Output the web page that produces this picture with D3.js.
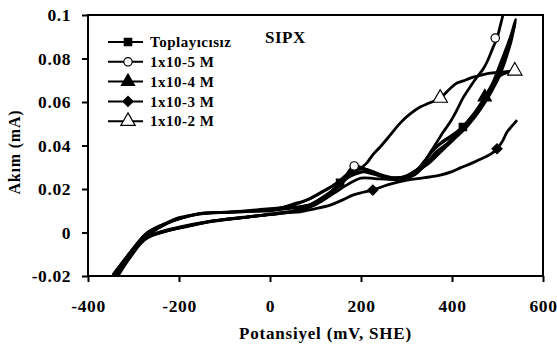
<!DOCTYPE html>
<html lang="en">
<head>
<meta charset="UTF-8">
<title>SIPX</title>
<style>
  body { margin: 0; background: #fff; }
  text { font-family: "Liberation Serif", "Times New Roman", serif; font-weight: bold; fill: #000; }
</style>
</head>
<body>
<script src="https://d3js.org/d3.v7.min.js"></script>
<script>
const width = 557, height = 346;

const xTicks = [-400, -200, 0, 200, 400, 600];
const yTicks = [-0.02, 0, 0.02, 0.04, 0.06, 0.08, 0.1];
const yTickLabels = ['-0.02', '0', '0.02', '0.04', '0.06', '0.08', '0.1'];

const seriesNames = ['Toplayıcısız', '1x10-5 M', '1x10-4 M', '1x10-3 M', '1x10-2 M'];

// [mV, mA], sweep out and back
const toplayicisiz = [
  [-338,-0.0195],[-320,-0.013],[-300,-0.0075],[-270,-0.002],[-230,0.001],[-200,0.0025],[-150,0.0045],
  [-100,0.006],[-50,0.0072],[0,0.0083],[50,0.0098],[100,0.0135],[130,0.018],[154,0.0228],[175,0.027],
  [200,0.028],[225,0.027],[250,0.0255],[275,0.0245],[300,0.025],[320,0.028],[340,0.033],[360,0.038],
  [380,0.042],[402,0.045],[424,0.0485],[446,0.054],[460,0.058],[477,0.062],[495,0.068],[510,0.075],
  [520,0.081],[530,0.088],[538,0.096],
  [533,0.091],[522,0.083],[507,0.074],[490,0.066],[470,0.059],[450,0.053],[430,0.048],[410,0.044],
  [390,0.040],[370,0.036],[350,0.032],[330,0.029],[310,0.026],[290,0.0248],[270,0.0245],[250,0.0255],
  [230,0.027],[210,0.028],[190,0.027],[170,0.025],[150,0.021],[120,0.0165],[90,0.013],[60,0.0115],
  [30,0.0108],[0,0.0100],[-50,0.0097],[-100,0.0093],[-160,0.0085],[-200,0.0068],[-226,0.0046],
  [-250,0.0015],[-270,-0.0006],[-290,-0.005],[-310,-0.0105],[-330,-0.016],[-345,-0.0195]
];
const m1e5 = [
  [-336,-0.02],[-318,-0.0135],[-300,-0.008],[-270,-0.0025],[-230,0.0005],[-198,0.0021],[-150,0.0042],
  [-125,0.0053],[-60,0.0068],[-15,0.008],[30,0.0092],[70,0.0105],[110,0.0145],[150,0.021],[185,0.0306],
  [205,0.0295],[225,0.028],[250,0.0262],[275,0.0252],[300,0.026],[320,0.0285],[336,0.031],[350,0.036],
  [367,0.0416],[380,0.046],[396,0.0508],[410,0.056],[424,0.0618],[440,0.067],[455,0.0715],[468,0.075],
  [479,0.0793],[490,0.085],[499,0.0894],[506,0.095],[512,0.1]
];
const m1e4 = [
  [-340,-0.02],[-322,-0.0135],[-300,-0.0078],[-270,-0.0022],[-230,0.0008],[-198,0.0023],[-150,0.0043],
  [-100,0.0058],[-50,0.0071],[0,0.0082],[50,0.0096],[100,0.0128],[140,0.018],[170,0.022],[200,0.025],
  [230,0.0248],[260,0.0244],[290,0.0245],[320,0.027],[345,0.032],[365,0.037],[390,0.041],[411,0.046],
  [430,0.05],[450,0.055],[472,0.0623],[490,0.069],[505,0.077],[518,0.084],[530,0.091],[540,0.098],
  [536,0.094],[527,0.087],[515,0.079],[500,0.071],[482,0.064],[462,0.057],[440,0.051],[420,0.0465],
  [400,0.043],[380,0.039],[358,0.035],[338,0.0305],[318,0.0265],[295,0.0248],[265,0.0248],[240,0.0262],
  [215,0.028],[198,0.0297],[176,0.0278],[147,0.0228],[110,0.0182],[80,0.0148],[59,0.0136],[20,0.0112],
  [-15,0.0103],[-88,0.0094],[-160,0.0085],[-226,0.0044],[-270,-0.0002],[-308,-0.0094],[-345,-0.0195]
];
const m1e3 = [
  [-334,-0.02],[-308,-0.0117],[-270,-0.0025],[-198,0.0021],[-125,0.0053],[-51,0.0071],[-15,0.008],
  [22,0.009],[59,0.0094],[100,0.011],[132,0.0126],[160,0.015],[182,0.0172],[205,0.0185],[226,0.0195],
  [260,0.022],[301,0.0241],[340,0.0252],[374,0.0264],[400,0.028],[418,0.0297],[445,0.032],[468,0.0343],
  [485,0.036],[499,0.0385],[511,0.042],[521,0.0462],[532,0.049],[543,0.0517]
];
const m1e2 = [
  [-342,-0.0198],[-325,-0.0145],[-305,-0.0088],[-270,-0.0015],[-226,0.0042],[-160,0.0083],[-88,0.0093],
  [-15,0.0101],[59,0.0132],[110,0.018],[147,0.0226],[176,0.027],[198,0.0292],[220,0.0285],[257,0.0255],
  [292,0.0255],[330,0.0301],[358,0.0379],[402,0.0448],[424,0.0485],[446,0.054],[477,0.0618],[495,0.0685],
  [505,0.072],[520,0.0735],[538,0.0743],
  [515,0.0738],[500,0.0735],[484,0.0733],[462,0.0722],[440,0.071],[425,0.0697],[411,0.0687],[395,0.066],
  [374,0.0618],[350,0.0595],[330,0.0577],[308,0.0545],[286,0.0503],[265,0.045],[242,0.0393],[225,0.0355],
  [213,0.032],[200,0.0298],[187,0.0292],[170,0.026],[150,0.0215],[120,0.0168],[90,0.013],[59,0.0118],
  [22,0.0113],[-30,0.0104],[-88,0.0094],[-160,0.0085],[-226,0.0044],[-270,-0.0002],[-308,-0.0094],[-345,-0.0195]
];

// points that carry a marker in the picture
const markers1 = [[154, 0.0228], [424, 0.0485]];
const markers2 = [[185, 0.0306], [495, 0.0894]];
const markers3 = [[472, 0.0623]];
const markers4 = [[226, 0.0195], [499, 0.0385]];
const markers5 = [[374, 0.0618], [538, 0.0743]];

const series = [
  { name: seriesNames[0], data: toplayicisiz, marks: markers1, sym: d3.symbolSquare, rot: 0, fill: '#000', size: 55 },
  { name: seriesNames[1], data: m1e5, marks: markers2, sym: d3.symbolCircle, rot: 0, fill: '#fff', size: 55 },
  { name: seriesNames[2], data: m1e4, marks: markers3, sym: d3.symbolTriangle, rot: 0, fill: '#000', size: 75 },
  { name: seriesNames[3], data: m1e3, marks: markers4, sym: d3.symbolSquare, rot: 45, fill: '#000', size: 50 },
  { name: seriesNames[4], data: m1e2, marks: markers5, sym: d3.symbolTriangle, rot: 0, fill: '#fff', size: 90 }
];

const margin = { left: 88, right: 14, top: 15, bottom: 70 };
const x = d3.scaleLinear().domain([-400, 600]).range([margin.left, width - margin.right]);
const y = d3.scaleLinear().domain([-0.02, 0.1]).range([height - margin.bottom, margin.top]);

const svg = d3.select('body').append('svg')
  .attr('width', width).attr('height', height);

svg.append('defs').append('clipPath').attr('id', 'clip')
  .append('rect')
  .attr('x', x(-400)).attr('y', y(0.1))
  .attr('width', x(600) - x(-400)).attr('height', y(-0.02) - y(0.1));

// axes
const xAxis = svg.append('g')
  .attr('transform', `translate(0,${y(-0.02)})`)
  .call(d3.axisBottom(x).tickValues(xTicks).tickSize(6).tickSizeOuter(0).tickFormat(d => String(d)));
const yAxis = svg.append('g')
  .attr('transform', `translate(${x(-400)},0)`)
  .call(d3.axisLeft(y).tickValues(yTicks).tickSize(6).tickSizeOuter(0)
    .tickFormat((d, i) => yTickLabels[i]));

[xAxis, yAxis].forEach(g => {
  g.select('.domain').remove();
  g.selectAll('line').attr('stroke', '#000').attr('stroke-width', 2);
  g.selectAll('text').style('font-size', '17.5px').style('font-family', '"Liberation Serif", serif')
    .style('font-weight', 'bold').style('letter-spacing', '0.6px').attr('fill', '#000');
});
xAxis.selectAll('text').attr('dy', '1.55em');
yAxis.selectAll('text').attr('dx', '-0.45em');

// frame
svg.append('rect')
  .attr('x', x(-400)).attr('y', y(0.1))
  .attr('width', x(600) - x(-400)).attr('height', y(-0.02) - y(0.1))
  .attr('fill', 'none').attr('stroke', '#000').attr('stroke-width', 2);

// curves
const line = d3.line().x(d => x(d[0])).y(d => y(d[1])).curve(d3.curveCatmullRom.alpha(0.5));
const plot = svg.append('g').attr('clip-path', 'url(#clip)');

plot.selectAll('path.series')
  .data(series)
  .enter().append('path')
  .attr('class', 'series')
  .attr('d', d => line(d.data))
  .attr('fill', 'none')
  .attr('stroke', '#000')
  .attr('stroke-width', 2.8)
  .attr('stroke-linejoin', 'round');

series.forEach(s => {
  plot.selectAll(null)
    .data(s.marks)
    .enter().append('path')
    .attr('transform', d => `translate(${x(d[0])},${y(d[1])}) rotate(${s.rot})`)
    .attr('d', d3.symbol().type(s.sym).size(s.size))
    .attr('fill', s.fill)
    .attr('stroke', '#000')
    .attr('stroke-width', 1.2);
});

// legend
const legend = svg.append('g').attr('transform', 'translate(108,42)');
const rows = legend.selectAll('g')
  .data(series)
  .enter().append('g')
  .attr('transform', (d, i) => `translate(0,${i * 19.8})`);
rows.append('line')
  .attr('x1', 0).attr('x2', 35)
  .attr('stroke', '#000').attr('stroke-width', 2);
rows.append('path')
  .attr('transform', d => `translate(20,0) rotate(${d.rot})`)
  .attr('d', d => d3.symbol().type(d.sym).size(d.size)())
  .attr('fill', d => d.fill)
  .attr('stroke', '#000')
  .attr('stroke-width', 1.2);
rows.append('text')
  .attr('x', 42).attr('dy', '0.35em')
  .style('font-size', '15px')
  .style('letter-spacing', '0.5px')
  .text(d => d.name);

svg.append('text')
  .attr('x', 265).attr('y', 43)
  .style('font-size', '17px')
  .style('letter-spacing', '0.5px')
  .text('SIPX');

// axis titles
svg.append('text')
  .attr('x', (x(-400) + x(600)) / 2 + 10).attr('y', 339)
  .attr('text-anchor', 'middle')
  .style('font-size', '17px')
  .style('letter-spacing', '0.8px')
  .text('Potansiyel (mV, SHE)');

svg.append('text')
  .attr('transform', `translate(20,152) rotate(-90)`)
  .attr('text-anchor', 'middle')
  .style('font-size', '16px')
  .style('letter-spacing', '0.8px')
  .text('Akım (mA)');
</script>
</body>
</html>
